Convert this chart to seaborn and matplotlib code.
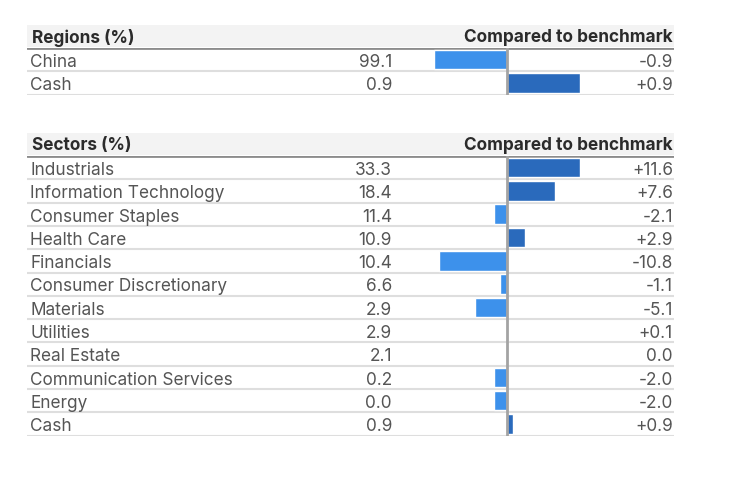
import pandas as pd
import numpy as np
import matplotlib.pyplot as plt
import seaborn as sns

# data
region_labels = ["China", "Cash"]
region_weights = [99.1, 0.9]
region_diff = [-0.9, 0.9]

sector_labels = ["Industrials", "Information Technology", "Consumer Staples",
                 "Health Care", "Financials", "Consumer Discretionary",
                 "Materials", "Utilities", "Real Estate",
                 "Communication Services", "Energy", "Cash"]
sector_weights = [33.3, 18.4, 11.4, 10.9, 10.4, 6.6, 2.9, 2.9, 2.1, 0.2, 0.0, 0.9]
sector_diff = [11.6, 7.6, -2.1, 2.9, -10.8, -1.1, -5.1, 0.1, 0.0, -2.0, -2.0, 0.9]

W, H = 740, 492
NEG = "#3d91eb"
POS = "#2a6abc"
BODY = "#555555"
HEAD = "#2b2b2b"
FS = 12.4

sns.set_theme(style="white")
plt.rcParams['font.family'] = ['Inter', 'DejaVu Sans']

fig = plt.figure(figsize=(W / 100, H / 100), dpi=100)


def rect(x0, y0, x1, y1):
    return [x0 / W, 1 - y1 / H, (x1 - x0) / W, (y1 - y0) / H]


def fmt_diff(v):
    if v > 0:
        return f"+{v:.1f}"
    if v < 0:
        return f"{v:.1f}"
    return "0.0"


def draw_table(top, title, labels, weights, diffs):
    left, right = 27, 674
    head_h = 22
    row_h = 23.3
    n = len(labels)
    body_top = top + head_h + 1
    body_bot = body_top + n * row_h

    # header band
    hax = fig.add_axes(rect(left, top, right, top + head_h))
    hax.set_facecolor("#f3f3f3")
    hax.set_xlim(left, right)
    hax.set_ylim(0, 1)
    hax.set_xticks([])
    hax.set_yticks([])
    for s in hax.spines.values():
        s.set_visible(False)
    hax.text(32, 0.42, title, ha="left", va="center",
             fontsize=FS, fontweight="bold", color=HEAD)
    hax.text(673, 0.42, "Compared to benchmark", ha="right",
             va="center", fontsize=FS, fontweight="bold", color=HEAD)

    # body text
    df = pd.DataFrame({"label": labels, "weight": weights, "diff": diffs})
    tax = fig.add_axes(rect(left, body_top, right, body_bot))
    tax.set_xlim(left, right)
    tax.set_ylim(n - 0.5, -0.5)
    tax.axis("off")
    tax.axhline(-0.5, color="#8c8c8c", lw=2)
    for i, row in df.iterrows():
        y = i + 0.12
        tax.text(30, y, row["label"], ha="left", va="center",
                 fontsize=FS, color=BODY)
        tax.text(392, y, f"{row['weight']:.1f}", ha="right", va="center",
                 fontsize=FS, color=BODY)
        tax.text(673, y, fmt_diff(row["diff"]), ha="right", va="center",
                 fontsize=FS, color=BODY)
        tax.axhline(i + 0.5, color="#dedede", lw=1.5)

    # bars
    m = max(abs(v) for v in diffs)
    bax = fig.add_axes(rect(507 - 73, body_top, 507 + 73, body_bot))
    bax.patch.set_alpha(0)
    df["y"] = [str(i) for i in range(n)]
    df["sign"] = np.where(df["diff"] < 0, "neg", "pos")
    sns.barplot(data=df, x="diff", y="y", hue="sign",
                palette={"neg": NEG, "pos": POS}, orient="h", saturation=1,
                width=0.84, dodge=False, legend=False, ax=bax)
    bax.set_xlim(-m, m)
    bax.set_ylim(n - 0.5, -0.5)
    bax.axvline(0, color="#a3a3a3", lw=2)
    bax.axis("off")


draw_table(25, "Regions (%)", region_labels, region_weights, region_diff)
draw_table(133, "Sectors (%)", sector_labels, sector_weights, sector_diff)

fig.savefig("out.png", dpi=100)
